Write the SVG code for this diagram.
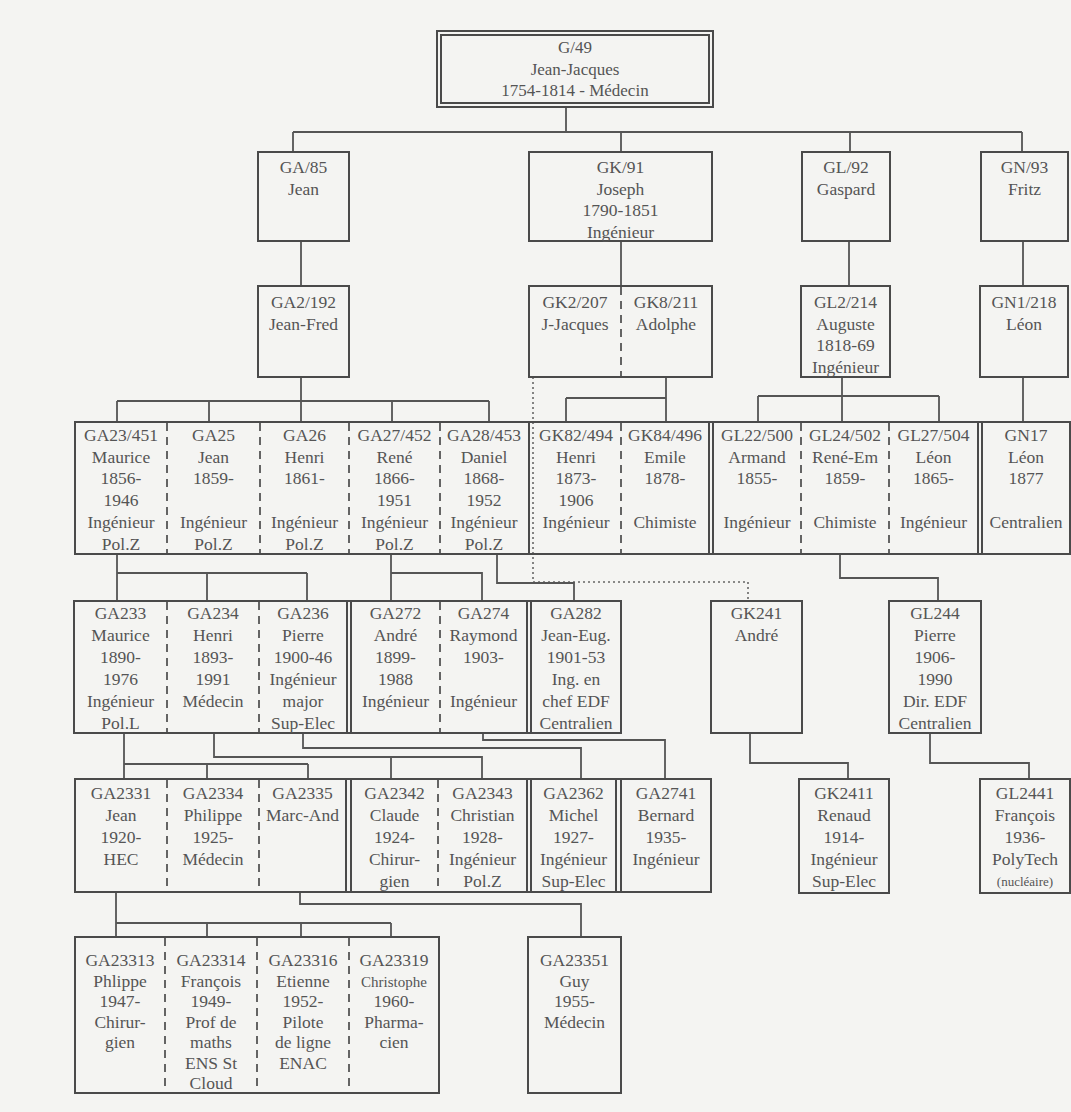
<svg xmlns="http://www.w3.org/2000/svg" width="1071" height="1112" viewBox="0 0 1071 1112">
<style>
.box{fill:none;stroke:#4a4a4a;stroke-width:2}
.sep{stroke:#4a4a4a;stroke-width:2}
.dash{stroke:#555;stroke-width:1.8;stroke-dasharray:8 6}
.conn{fill:none;stroke:#555;stroke-width:1.8}
.dot{fill:none;stroke:#666;stroke-width:1.6;stroke-dasharray:2 3}
text{font-family:"Liberation Serif","Times New Roman",serif;font-size:17.5px;fill:#555;text-anchor:middle}
.top{font-size:17px}
.sm{font-size:15px}
.xs{font-size:13px}
</style>
<rect width="1071" height="1112" fill="#f4f4f2"/>

<g id="connectors">
  <path class="conn" d="M566,107V132M293,132H1022M293,132V152M621,132V152M850,132V152M1022,132V152"/>
  <path class="conn" d="M301,241V286M621,241V286M849,241V286M1023,241V286"/>
  <path class="conn" d="M301,377V401M117,401H489M117,401V422M209,401V422M301,401V422M392,401V422M489,401V422"/>
  <path class="conn" d="M666,377V422M566,398H666M566,398V422"/>
  <path class="conn" d="M842,377V422M758,396H939M758,396V422M939,396V422"/>
  <path class="conn" d="M1023,377V422"/>
  <path class="dot" d="M533,377V582H748V601"/>
  <path class="conn" d="M117,554V601M117,573H307M207,573V601M307,573V601"/>
  <path class="conn" d="M391,554V601M391,573H482V601"/>
  <path class="conn" d="M497,554V583H574V601"/>
  <path class="conn" d="M840,554V578H938V601"/>
  <path class="conn" d="M124,733V779M124,764H308M207,764V779M308,764V779"/>
  <path class="conn" d="M214,733V757H482V779M391,757V779"/>
  <path class="conn" d="M303,733V748H581V779"/>
  <path class="conn" d="M483,733V740H665V779"/>
  <path class="conn" d="M750,733V763H848V779"/>
  <path class="conn" d="M930,733V763H1029V779"/>
  <path class="conn" d="M116,892V937M116,923H391M207,923V937M301,923V937M391,923V937"/>
  <path class="conn" d="M300,892V904H581V937"/>
</g>

<g id="G49">
  <rect class="box" x="437" y="31" width="276" height="76"/>
  <rect class="box" x="441" y="35" width="268" height="68" stroke-width="1.5"/>
  <text class="top" x="575" y="53">G/49<tspan x="575" dy="21.5">Jean-Jacques</tspan><tspan x="575" dy="21.5">1754-1814 - Médecin</tspan></text>
</g>

<g id="GA85"><rect class="box" x="258" y="152" width="91" height="89"/>
  <text x="303.5" y="173">GA/85<tspan x="303.5" dy="21.5">Jean</tspan></text></g>
<g id="GK91"><rect class="box" x="529" y="152" width="183" height="89"/>
  <text x="620.5" y="173">GK/91<tspan x="620.5" dy="21.5">Joseph</tspan><tspan x="620.5" dy="21.5">1790-1851</tspan><tspan x="620.5" dy="21.5">Ingénieur</tspan></text></g>
<g id="GL92"><rect class="box" x="802" y="152" width="88" height="89"/>
  <text x="846" y="173">GL/92<tspan x="846" dy="21.5">Gaspard</tspan></text></g>
<g id="GN93"><rect class="box" x="981" y="152" width="87" height="89"/>
  <text x="1024.5" y="173">GN/93<tspan x="1024.5" dy="21.5">Fritz</tspan></text></g>

<g id="GA2-192"><rect class="box" x="258" y="286" width="91" height="91"/>
  <text x="303.5" y="308">GA2/192<tspan x="303.5" dy="21.5">Jean-Fred</tspan></text></g>
<g id="row2-GK">
  <rect class="box" x="529" y="286" width="183" height="91"/>
  <line class="dash" x1="621" y1="287" x2="621" y2="376"/>
  <g id="GK2-207"><text x="575" y="308">GK2/207<tspan x="575" dy="21.5">J-Jacques</tspan></text></g>
  <g id="GK8-211"><text x="666" y="308">GK8/211<tspan x="666" dy="21.5">Adolphe</tspan></text></g>
</g>
<g id="GL2-214"><rect class="box" x="801" y="286" width="89" height="91"/>
  <text x="845.5" y="308">GL2/214<tspan x="845.5" dy="21.5">Auguste</tspan><tspan x="845.5" dy="21.5">1818-69</tspan><tspan x="845.5" dy="21.5">Ingénieur</tspan></text></g>
<g id="GN1-218"><rect class="box" x="980" y="286" width="88" height="91"/>
  <text x="1024" y="308">GN1/218<tspan x="1024" dy="21.5">Léon</tspan></text></g>

<g id="row3">
  <rect class="box" x="75" y="422" width="995" height="132"/>
  <path class="dash" d="M167,423V553M260,423V553M349,423V553M440,423V553M621,423V553M801,423V553M889,423V553"/>
  <path class="sep" d="M529,423V553M709,423V553M713,423V553M978,423V553M982,423V553"/>
  <g id="GA23-451"><text x="121" y="441">GA23/451<tspan x="121" dy="21.7">Maurice</tspan><tspan x="121" dy="21.7">1856-</tspan><tspan x="121" dy="21.7">1946</tspan><tspan x="121" dy="21.7">Ingénieur</tspan><tspan x="121" dy="21.7">Pol.Z</tspan></text></g>
  <g id="GA25"><text x="213.5" y="441">GA25<tspan x="213.5" dy="21.7">Jean</tspan><tspan x="213.5" dy="21.7">1859-</tspan><tspan x="213.5" dy="43.4">Ingénieur</tspan><tspan x="213.5" dy="21.7">Pol.Z</tspan></text></g>
  <g id="GA26"><text x="304.5" y="441">GA26<tspan x="304.5" dy="21.7">Henri</tspan><tspan x="304.5" dy="21.7">1861-</tspan><tspan x="304.5" dy="43.4">Ingénieur</tspan><tspan x="304.5" dy="21.7">Pol.Z</tspan></text></g>
  <g id="GA27-452"><text x="394.5" y="441">GA27/452<tspan x="394.5" dy="21.7">René</tspan><tspan x="394.5" dy="21.7">1866-</tspan><tspan x="394.5" dy="21.7">1951</tspan><tspan x="394.5" dy="21.7">Ingénieur</tspan><tspan x="394.5" dy="21.7">Pol.Z</tspan></text></g>
  <g id="GA28-453"><text x="484" y="441">GA28/453<tspan x="484" dy="21.7">Daniel</tspan><tspan x="484" dy="21.7">1868-</tspan><tspan x="484" dy="21.7">1952</tspan><tspan x="484" dy="21.7">Ingénieur</tspan><tspan x="484" dy="21.7">Pol.Z</tspan></text></g>
  <g id="GK82-494"><text x="576" y="441">GK82/494<tspan x="576" dy="21.7">Henri</tspan><tspan x="576" dy="21.7">1873-</tspan><tspan x="576" dy="21.7">1906</tspan><tspan x="576" dy="21.7">Ingénieur</tspan></text></g>
  <g id="GK84-496"><text x="665" y="441">GK84/496<tspan x="665" dy="21.7">Emile</tspan><tspan x="665" dy="21.7">1878-</tspan><tspan x="665" dy="43.4">Chimiste</tspan></text></g>
  <g id="GL22-500"><text x="757" y="441">GL22/500<tspan x="757" dy="21.7">Armand</tspan><tspan x="757" dy="21.7">1855-</tspan><tspan x="757" dy="43.4">Ingénieur</tspan></text></g>
  <g id="GL24-502"><text x="845" y="441">GL24/502<tspan x="845" dy="21.7">René-Em</tspan><tspan x="845" dy="21.7">1859-</tspan><tspan x="845" dy="43.4">Chimiste</tspan></text></g>
  <g id="GL27-504"><text x="933.5" y="441">GL27/504<tspan x="933.5" dy="21.7">Léon</tspan><tspan x="933.5" dy="21.7">1865-</tspan><tspan x="933.5" dy="43.4">Ingénieur</tspan></text></g>
  <g id="GN17"><text x="1026" y="441">GN17<tspan x="1026" dy="21.7">Léon</tspan><tspan x="1026" dy="21.7">1877</tspan><tspan x="1026" dy="43.4">Centralien</tspan></text></g>
</g>

<g id="row4-GA">
  <rect class="box" x="74" y="601" width="547" height="132"/>
  <path class="dash" d="M167,602V732M259,602V732M440,602V732"/>
  <path class="sep" d="M347,602V732M351,602V732M527,602V732M531,602V732"/>
  <g id="GA233"><text x="120.5" y="619">GA233<tspan x="120.5" dy="22">Maurice</tspan><tspan x="120.5" dy="22">1890-</tspan><tspan x="120.5" dy="22">1976</tspan><tspan x="120.5" dy="22">Ingénieur</tspan><tspan x="120.5" dy="22">Pol.L</tspan></text></g>
  <g id="GA234"><text x="213" y="619">GA234<tspan x="213" dy="22">Henri</tspan><tspan x="213" dy="22">1893-</tspan><tspan x="213" dy="22">1991</tspan><tspan x="213" dy="22">Médecin</tspan></text></g>
  <g id="GA236"><text x="303" y="619">GA236<tspan x="303" dy="22">Pierre</tspan><tspan x="303" dy="22">1900-46</tspan><tspan x="303" dy="22">Ingénieur</tspan><tspan x="303" dy="22">major</tspan><tspan x="303" dy="22">Sup-Elec</tspan></text></g>
  <g id="GA272"><text x="395.5" y="619">GA272<tspan x="395.5" dy="22">André</tspan><tspan x="395.5" dy="22">1899-</tspan><tspan x="395.5" dy="22">1988</tspan><tspan x="395.5" dy="22">Ingénieur</tspan></text></g>
  <g id="GA274"><text x="483.5" y="619">GA274<tspan x="483.5" dy="22">Raymond</tspan><tspan x="483.5" dy="22">1903-</tspan><tspan x="483.5" dy="44">Ingénieur</tspan></text></g>
  <g id="GA282"><text x="576" y="619">GA282<tspan x="576" dy="22">Jean-Eug.</tspan><tspan x="576" dy="22">1901-53</tspan><tspan x="576" dy="22">Ing. en</tspan><tspan x="576" dy="22">chef EDF</tspan><tspan x="576" dy="22">Centralien</tspan></text></g>
</g>
<g id="GK241"><rect class="box" x="711" y="601" width="91" height="132"/>
  <text x="756.5" y="619">GK241<tspan x="756.5" dy="22">André</tspan></text></g>
<g id="GL244"><rect class="box" x="889" y="601" width="92" height="132"/>
  <text x="935" y="619">GL244<tspan x="935" dy="22">Pierre</tspan><tspan x="935" dy="22">1906-</tspan><tspan x="935" dy="22">1990</tspan><tspan x="935" dy="22">Dir. EDF</tspan><tspan x="935" dy="22">Centralien</tspan></text></g>

<g id="row5-GA">
  <rect class="box" x="75" y="779" width="636" height="113"/>
  <path class="dash" d="M167,780V891M259,780V891M438,780V891"/>
  <path class="sep" d="M346,780V891M351,780V891M527,780V891M531,780V891M616,780V891M621,780V891"/>
  <g id="GA2331"><text x="121" y="799">GA2331<tspan x="121" dy="22">Jean</tspan><tspan x="121" dy="22">1920-</tspan><tspan x="121" dy="22">HEC</tspan></text></g>
  <g id="GA2334"><text x="213" y="799">GA2334<tspan x="213" dy="22">Philippe</tspan><tspan x="213" dy="22">1925-</tspan><tspan x="213" dy="22">Médecin</tspan></text></g>
  <g id="GA2335"><text x="302.5" y="799">GA2335<tspan x="302.5" dy="22">Marc-And</tspan></text></g>
  <g id="GA2342"><text x="394.5" y="799">GA2342<tspan x="394.5" dy="22">Claude</tspan><tspan x="394.5" dy="22">1924-</tspan><tspan x="394.5" dy="22">Chirur-</tspan><tspan x="394.5" dy="22">gien</tspan></text></g>
  <g id="GA2343"><text x="482.5" y="799">GA2343<tspan x="482.5" dy="22">Christian</tspan><tspan x="482.5" dy="22">1928-</tspan><tspan x="482.5" dy="22">Ingénieur</tspan><tspan x="482.5" dy="22">Pol.Z</tspan></text></g>
  <g id="GA2362"><text x="573.5" y="799">GA2362<tspan x="573.5" dy="22">Michel</tspan><tspan x="573.5" dy="22">1927-</tspan><tspan x="573.5" dy="22">Ingénieur</tspan><tspan x="573.5" dy="22">Sup-Elec</tspan></text></g>
  <g id="GA2741"><text x="666" y="799">GA2741<tspan x="666" dy="22">Bernard</tspan><tspan x="666" dy="22">1935-</tspan><tspan x="666" dy="22">Ingénieur</tspan></text></g>
</g>
<g id="GK2411"><rect class="box" x="799" y="779" width="90" height="114"/>
  <text x="844" y="799">GK2411<tspan x="844" dy="22">Renaud</tspan><tspan x="844" dy="22">1914-</tspan><tspan x="844" dy="22">Ingénieur</tspan><tspan x="844" dy="22">Sup-Elec</tspan></text></g>
<g id="GL2441"><rect class="box" x="980" y="779" width="90" height="114"/>
  <text x="1025" y="799">GL2441<tspan x="1025" dy="22">François</tspan><tspan x="1025" dy="22">1936-</tspan><tspan x="1025" dy="22">PolyTech</tspan><tspan class="xs" x="1025" dy="21">(nucléaire)</tspan></text></g>

<g id="row6-GA">
  <rect class="box" x="75" y="937" width="364" height="156"/>
  <path class="dash" d="M165,938V1092M257,938V1092M349,938V1092"/>
  <g id="GA23313"><text x="120" y="966">GA23313<tspan x="120" dy="20.5">Phlippe</tspan><tspan x="120" dy="20.5">1947-</tspan><tspan x="120" dy="20.5">Chirur-</tspan><tspan x="120" dy="20.5">gien</tspan></text></g>
  <g id="GA23314"><text x="211" y="966">GA23314<tspan x="211" dy="20.5">François</tspan><tspan x="211" dy="20.5">1949-</tspan><tspan x="211" dy="20.5">Prof de</tspan><tspan x="211" dy="20.5">maths</tspan><tspan x="211" dy="20.5">ENS St</tspan><tspan x="211" dy="20.5">Cloud</tspan></text></g>
  <g id="GA23316"><text x="303" y="966">GA23316<tspan x="303" dy="20.5">Etienne</tspan><tspan x="303" dy="20.5">1952-</tspan><tspan x="303" dy="20.5">Pilote</tspan><tspan x="303" dy="20.5">de ligne</tspan><tspan x="303" dy="20.5">ENAC</tspan></text></g>
  <g id="GA23319"><text x="394" y="966">GA23319<tspan class="sm" x="394" dy="20.5">Christophe</tspan><tspan x="394" dy="20.5">1960-</tspan><tspan x="394" dy="20.5">Pharma-</tspan><tspan x="394" dy="20.5">cien</tspan></text></g>
</g>
<g id="GA23351"><rect class="box" x="528" y="937" width="93" height="156"/>
  <text x="574.5" y="966">GA23351<tspan x="574.5" dy="20.5">Guy</tspan><tspan x="574.5" dy="20.5">1955-</tspan><tspan x="574.5" dy="20.5">Médecin</tspan></text></g>
</svg>
